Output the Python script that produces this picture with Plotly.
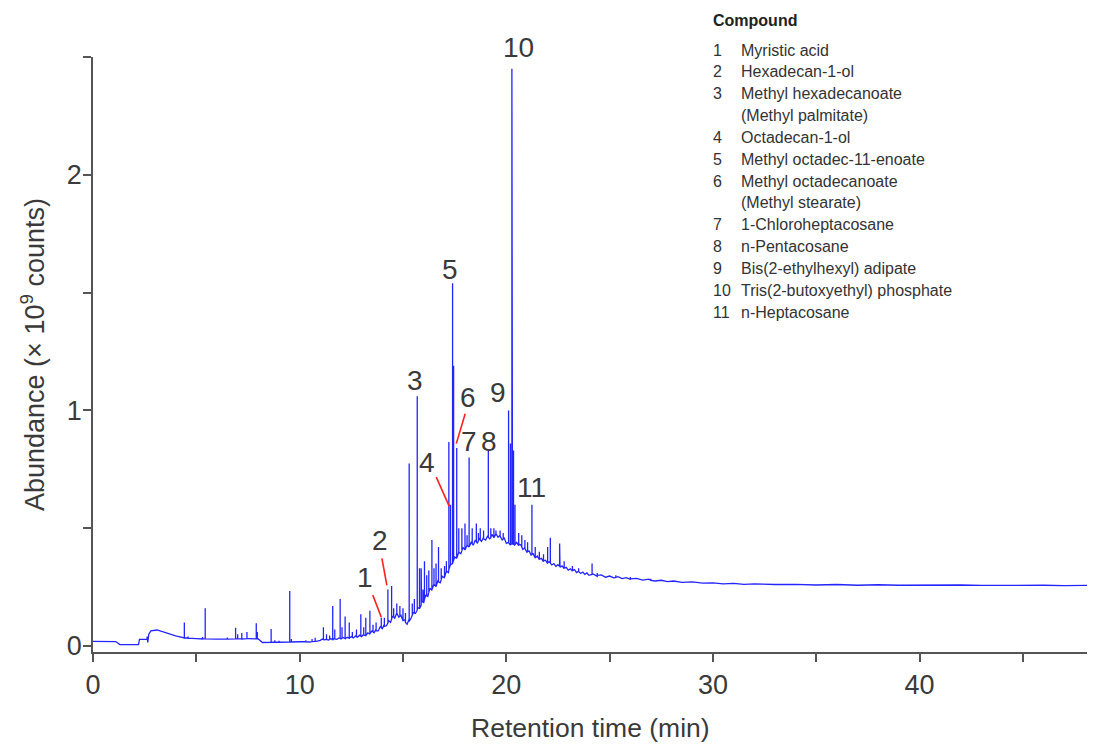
import plotly.graph_objects as go

# ---------------- data ----------------
# baseline of the chromatogram (retention time in min, abundance in 1e9 counts)
base_t = [0.0, 0.5, 1.1, 1.3, 2.2, 2.25, 2.5, 2.6, 2.65, 2.7, 2.8, 3.1, 3.5, 4.0, 4.5,
          5.0, 6.0, 7.0, 7.5, 8.0, 8.1, 8.2, 9.0, 10.0, 10.5, 10.8,
          11.0, 11.1, 11.2, 11.3, 11.4, 11.5, 11.6, 11.7, 11.8, 11.9,
          12.0, 12.1, 12.2, 12.3, 12.4, 12.5, 12.6, 12.7, 12.8, 12.9,
          13.0, 13.1, 13.2, 13.3, 13.4, 13.5, 13.6, 13.7, 13.8, 13.9,
          14.0, 14.1, 14.2, 14.3, 14.4, 14.5, 14.6, 14.7, 14.8, 14.9,
          15.0, 15.1, 15.2, 15.3, 15.4, 15.5, 15.6, 15.7, 15.8, 15.9,
          16.0, 16.1, 16.2, 16.3, 16.4, 16.5, 16.6, 16.7, 16.8, 16.9,
          17.0, 17.1, 17.2, 17.3, 17.4, 17.5, 17.6, 17.7, 17.8, 17.9,
          18.0, 18.1, 18.2, 18.3, 18.4, 18.5, 18.6, 18.7, 18.8, 18.9,
          19.0, 19.1, 19.2, 19.3, 19.4, 19.5, 19.6, 19.7, 19.8, 19.9,
          20.0, 20.1, 20.2, 20.3, 20.4, 20.5, 20.6, 20.7, 20.8, 20.9,
          21.0, 21.1, 21.2, 21.3, 21.4, 21.5, 21.6, 21.7, 21.8, 21.9,
          22.0, 22.1, 22.2, 22.3, 22.4, 22.5, 22.6, 22.7, 22.8, 22.9,
          23.0, 23.1, 23.2, 23.3, 23.4, 23.5, 23.6, 23.7, 23.8, 23.9,
          24.0, 24.2, 24.4, 24.6, 24.8, 25.0, 25.2, 25.4, 25.6, 25.8,
          26.0, 26.3, 26.6, 26.9, 27.2, 27.5, 27.8, 28.1, 28.5, 29.0,
          29.5, 30.0, 30.5, 31.0, 31.5, 32.0, 33.0, 34.0, 35.0, 36.0,
          37.0, 38.0, 39.0, 40.0, 41.0, 42.0, 43.0, 44.0, 45.0, 46.0,
          47.0, 48.1]
base_y = [0.020, 0.020, 0.019, 0.006, 0.006, 0.028, 0.030, 0.029, 0.015, 0.050, 0.064,
          0.068, 0.056, 0.043, 0.034, 0.031, 0.029, 0.030, 0.031, 0.030, 0.024, 0.015,
          0.016, 0.018, 0.017, 0.020,
          0.024, 0.030, 0.026, 0.029, 0.025, 0.031, 0.027, 0.033, 0.028, 0.034,
          0.030, 0.036, 0.031, 0.037, 0.033, 0.040, 0.034, 0.042, 0.037, 0.046,
          0.040, 0.050, 0.044, 0.056, 0.050, 0.064, 0.056, 0.072, 0.064, 0.082,
          0.074, 0.092, 0.086, 0.108, 0.100, 0.128, 0.118, 0.140, 0.122, 0.130,
          0.108, 0.112, 0.092, 0.115, 0.120, 0.142, 0.138, 0.165, 0.158, 0.190,
          0.182, 0.215, 0.210, 0.245, 0.236, 0.262, 0.252, 0.280, 0.268, 0.296,
          0.290, 0.318, 0.312, 0.345, 0.350, 0.378, 0.372, 0.398, 0.392, 0.418,
          0.408, 0.428, 0.420, 0.440, 0.428, 0.450, 0.436, 0.458, 0.444, 0.462,
          0.450, 0.468, 0.455, 0.474, 0.460, 0.476, 0.462, 0.470, 0.450, 0.458,
          0.436, 0.440, 0.428, 0.436, 0.428, 0.440, 0.426, 0.430, 0.410, 0.418,
          0.398, 0.404, 0.386, 0.392, 0.374, 0.382, 0.366, 0.372, 0.358, 0.364,
          0.350, 0.358, 0.344, 0.350, 0.338, 0.345, 0.334, 0.340, 0.328, 0.334,
          0.322, 0.328, 0.318, 0.324, 0.312, 0.318, 0.308, 0.314, 0.304, 0.310,
          0.300, 0.306, 0.296, 0.302, 0.292, 0.297, 0.289, 0.294, 0.286, 0.290,
          0.283, 0.287, 0.280, 0.284, 0.276, 0.279, 0.273, 0.276, 0.270, 0.272,
          0.267, 0.268, 0.264, 0.266, 0.262, 0.264, 0.261, 0.262, 0.259, 0.261,
          0.258, 0.260, 0.258, 0.259, 0.257, 0.259, 0.257, 0.258, 0.256, 0.258,
          0.256, 0.257]

# peaks: apex time, baseline under the peak, apex height
peak_t = [2.62, 4.42, 4.6, 5.3, 5.43, 6.5, 6.9, 7.0, 7.2, 7.45, 7.9, 7.95, 8.62, 8.8,
          9.0, 9.52, 9.6, 10.3, 10.6, 10.75, 11.15, 11.3, 11.45, 11.6, 11.7, 11.96,
          12.05, 12.2, 12.4, 12.55, 12.75, 12.96, 13.1, 13.2, 13.4, 13.55, 13.7, 13.95,
          14.1, 14.27, 14.45, 14.55, 14.7, 14.85, 15.0, 15.12, 15.3, 15.45, 15.55,
          15.69, 15.8, 15.88, 15.97, 16.04, 16.15, 16.25, 16.4, 16.5, 16.6, 16.72,
          16.85, 17.01, 17.1, 17.22, 17.3, 17.4, 17.45, 17.6, 17.7, 17.85, 18.0, 18.1,
          18.2, 18.35, 18.55, 18.65, 18.74, 18.9, 19.13, 19.25, 19.4, 19.5, 19.7,
          19.85, 20.11, 20.2, 20.27, 20.35, 20.42, 20.6, 20.75, 20.9, 21.03, 21.24,
          21.4, 21.6, 21.8, 22.0, 22.13, 22.58, 22.8, 23.2, 23.5, 24.15, 24.4, 25.3,
          26.0, 27.0]
peak_b = [0.029, 0.034, 0.033, 0.030, 0.030, 0.029, 0.030, 0.030, 0.030, 0.031, 0.030,
          0.030, 0.016, 0.016, 0.016, 0.017, 0.017, 0.018, 0.019, 0.020, 0.027, 0.028,
          0.028, 0.027, 0.030, 0.032, 0.033, 0.031, 0.033, 0.037, 0.039, 0.042, 0.047,
          0.044, 0.053, 0.060, 0.064, 0.078, 0.083, 0.097, 0.114, 0.123, 0.140, 0.126,
          0.108, 0.100, 0.104, 0.131, 0.140, 0.152, 0.158, 0.174, 0.186, 0.198, 0.213,
          0.228, 0.240, 0.262, 0.252, 0.272, 0.282, 0.292, 0.318, 0.325, 0.345, 0.350,
          0.364, 0.372, 0.398, 0.405, 0.408, 0.428, 0.420, 0.434, 0.443, 0.447, 0.450,
          0.455, 0.462, 0.460, 0.460, 0.476, 0.466, 0.454, 0.438, 0.434, 0.432, 0.432,
          0.430, 0.432, 0.420, 0.414, 0.400, 0.388, 0.374, 0.368, 0.361, 0.354, 0.352,
          0.338, 0.330, 0.320, 0.316, 0.304, 0.300, 0.291, 0.285, 0.278]
peak_h = [0.040, 0.100, 0.040, 0.038, 0.160, 0.036, 0.078, 0.050, 0.055, 0.060, 0.097,
          0.060, 0.072, 0.025, 0.022, 0.233, 0.030, 0.025, 0.030, 0.035, 0.080, 0.050,
          0.045, 0.170, 0.070, 0.200, 0.080, 0.125, 0.100, 0.060, 0.070, 0.135, 0.080,
          0.120, 0.150, 0.090, 0.100, 0.120, 0.120, 0.240, 0.255, 0.160, 0.180, 0.170,
          0.160, 0.140, 0.775, 0.180, 0.200, 1.060, 0.330, 0.330, 0.240, 0.360, 0.300,
          0.320, 0.450, 0.330, 0.350, 0.420, 0.330, 0.340, 0.360, 0.866, 0.600, 1.540,
          1.190, 0.840, 0.500, 0.500, 0.520, 0.470, 0.800, 0.500, 0.520, 0.480, 0.500,
          0.490, 0.830, 0.500, 0.500, 0.490, 0.490, 0.480, 1.000, 0.860, 2.450, 0.830,
          0.600, 0.480, 0.470, 0.450, 0.440, 0.600, 0.420, 0.400, 0.390, 0.420, 0.460,
          0.435, 0.360, 0.340, 0.330, 0.350, 0.310, 0.300, 0.293, 0.285]

# compound labels (number, label position) and list
label_txt = ["1", "2", "3", "4", "5", "6", "7", "8", "9", "10", "11"]
label_x = [13.17, 13.9, 15.6, 16.17, 17.29, 18.16, 18.2, 19.16, 19.61, 20.6, 21.21]
label_y = [0.292, 0.449, 1.127, 0.78, 1.60, 1.055, 0.87, 0.87, 1.076, 2.54, 0.674]
# leader lines (x0, y0, x1, y1)
lead_x0 = [13.54, 13.98, 16.61, 18.01]
lead_y0 = [0.216, 0.372, 0.717, 0.986]
lead_x1 = [13.95, 14.22, 17.24, 17.58]
lead_y1 = [0.122, 0.258, 0.593, 0.859]

compound_no = ["1", "2", "3", "", "4", "5", "6", "", "7", "8", "9", "10", "11"]
compound_name = ["Myristic acid", "Hexadecan-1-ol", "Methyl hexadecanoate",
                 "(Methyl palmitate)", "Octadecan-1-ol", "Methyl octadec-11-enoate",
                 "Methyl octadecanoate", "(Methyl stearate)", "1-Chloroheptacosane",
                 "n-Pentacosane", "Bis(2-ethylhexyl) adipate",
                 "Tris(2-butoxyethyl) phosphate", "n-Heptacosane"]

x_tickvals = [0, 5, 10, 15, 20, 25, 30, 35, 40, 45]
x_ticktext = ["0", "", "10", "", "20", "", "30", "", "40", ""]
y_tickvals = [0, 0.5, 1, 1.5, 2, 2.5]
y_ticktext = ["0", "", "1", "", "2", ""]
x_title = "Retention time (min)"
y_title = "Abundance (× 10<sup>9</sup> counts)"

# ---------------- build the trace ----------------
events = [(t, 0, y, None) for t, y in zip(base_t, base_y)]
events += [(t, 1, b, h) for t, b, h in zip(peak_t, peak_b, peak_h)]
events.sort(key=lambda e: (e[0], e[1]))
xs, ys = [], []
for t, kind, a, h in events:
    if kind == 0:
        xs.append(t); ys.append(a)
    else:
        xs += [t, t, t]; ys += [a, h, a]

FONT = "Liberation Sans, Arial, sans-serif"
TXT = "#3a3a3a"

fig = go.Figure()
fig.add_trace(go.Scatter(x=xs, y=ys, mode="lines",
                         line=dict(color="#2424ff", width=1.3), hoverinfo="skip",
                         showlegend=False))

# the page body has an 8 px margin; the figure is sized to fit inside the window
OFF = 8
W, H = 1091, 735
L, R, T, B = 85, 12, 49, 91
pw, ph = W - L - R, H - T - B


def px(p):
    return (p - OFF - L) / pw


def py(p):
    return (H - B - (p - OFF)) / ph


ymin, ymax = -0.0254, 2.5
anns = []
for t, x, y in zip(label_txt, label_x, label_y):
    frac = (y - ymin) / (ymax - ymin)
    anns.append(dict(x=x, y=frac, xref="x", yref="paper", text=t, showarrow=False,
                     font=dict(family=FONT, size=28, color=TXT),
                     xanchor="center", yanchor="middle"))

anns.append(dict(x=px(711), y=py(20), xref="paper", yref="paper", text="<b>Compound</b>",
                 showarrow=False, xanchor="left", yanchor="middle",
                 font=dict(family=FONT, size=16, color="#222")))
for i, (n, name) in enumerate(zip(compound_no, compound_name)):
    yy = 50 + i * 21.85
    if n:
        anns.append(dict(x=px(711), y=py(yy), xref="paper", yref="paper", text=n,
                         showarrow=False, xanchor="left", yanchor="middle",
                         font=dict(family=FONT, size=16, color="#333")))
    anns.append(dict(x=px(739), y=py(yy), xref="paper", yref="paper", text=name,
                     showarrow=False, xanchor="left", yanchor="middle",
                     font=dict(family=FONT, size=16, color="#333")))

# axis titles
anns.append(dict(x=px(590), y=py(728), xref="paper", yref="paper", text=x_title,
                 showarrow=False, xanchor="center", yanchor="middle",
                 font=dict(family=FONT, size=26.5, color=TXT)))
anns.append(dict(x=px(33), y=py(355), xref="paper", yref="paper", text=y_title,
                 showarrow=False, xanchor="center", yanchor="middle", textangle=-90,
                 font=dict(family=FONT, size=27, color=TXT)))

shapes = [dict(type="line", xref="x", yref="y", x0=a, y0=b, x1=c, y1=d,
               line=dict(color="#ff2020", width=1.6))
          for a, b, c, d in zip(lead_x0, lead_y0, lead_x1, lead_y1)]

fig.update_layout(
    width=W, height=H, margin=dict(l=L, r=R, t=T, b=B, autoexpand=False),
    paper_bgcolor="white", plot_bgcolor="white",
    font=dict(family=FONT, color=TXT),
    annotations=anns, shapes=shapes,
    xaxis=dict(range=[0, 48.1], tickvals=x_tickvals, ticktext=x_ticktext,
               automargin=False,
               showgrid=False, zeroline=False, showline=True, linecolor="#555",
               linewidth=1.5, ticks="outside", ticklen=8, tickcolor="#555", tickwidth=1.5,
               tickfont=dict(size=27, color=TXT, family=FONT)),
    yaxis=dict(range=[ymin, ymax], tickvals=y_tickvals, ticktext=y_ticktext,
               automargin=False, ticklabelstandoff=-4,
               showgrid=False, zeroline=False, showline=True, linecolor="#555",
               linewidth=1.5, ticks="outside", ticklen=8, tickcolor="#555", tickwidth=1.5,
               tickfont=dict(size=27, color=TXT, family=FONT)),
)

fig.write_html("out.html")
